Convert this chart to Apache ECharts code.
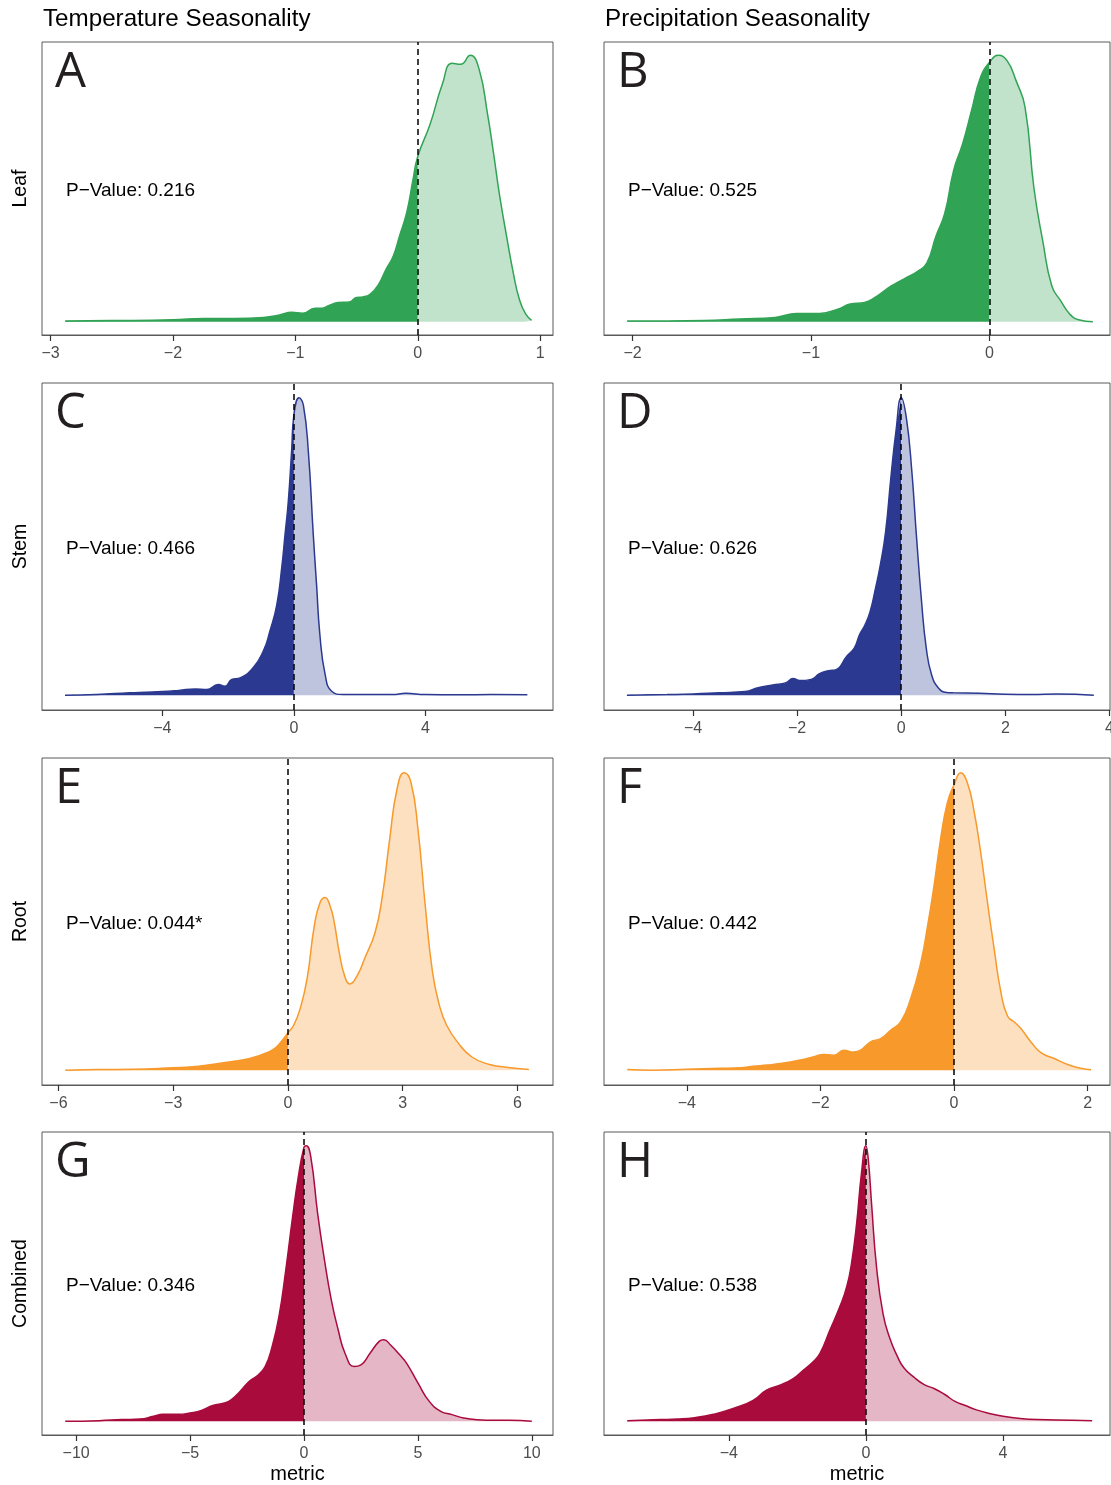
<!DOCTYPE html>
<html>
<head>
<meta charset="utf-8">
<script src="https://cdn.jsdelivr.net/npm/echarts@6.0.0/dist/echarts.min.js"></script>
<style>
  html, body { margin: 0; padding: 0; background: #ffffff; }
  #chart { width: 1111px; height: 1485px; }
</style>
</head>
<body>
<div id="chart"></div>
<script>
// density curves, height relative to each panel's peak (=100)
const leafTempX = [-2.88, -2.5, -2, -1.75, -1.5, -1.26, -1.13, -1.03, -0.94, -0.84, -0.79, -0.72, -0.65, -0.56, -0.5, -0.45, -0.39, -0.32, -0.26, -0.2, -0.15, -0.09, -0.04, 0, 0.1, 0.2, 0.28, 0.35, 0.43, 0.5, 0.57, 0.62, 0.67, 0.73, 0.78, 0.83, 0.88, 0.93];
const leafTempY = [0.3, 0.4, 0.7, 1.2, 1.2, 1.6, 2.5, 3.5, 3.2, 5, 5, 6.2, 7.2, 7.4, 9.1, 9.3, 10.3, 14, 19.6, 24.6, 32, 41, 53, 62, 74, 89, 97, 96.6, 100, 95, 78, 63, 47, 31, 18.4, 8.4, 3, 0.5];

const leafPrecX = [-2.03, -1.8, -1.6, -1.4, -1.2, -1.08, -0.95, -0.85, -0.78, -0.7, -0.65, -0.55, -0.48, -0.4, -0.35, -0.3, -0.25, -0.2, -0.15, -0.1, -0.05, 0, 0.05, 0.1, 0.15, 0.2, 0.25, 0.3, 0.35, 0.4, 0.45, 0.5, 0.58];
const leafPrecY = [0.3, 0.3, 0.4, 1, 1.6, 3.1, 3.1, 4.7, 6.6, 7.2, 8.7, 13.4, 16, 19, 22.1, 32, 40.7, 56.9, 66.8, 79.3, 91.7, 97.3, 100, 97.9, 90.4, 80.5, 50, 30, 13.4, 7.8, 2.9, 0.7, 0];

const stemTempX = [-6.96, -6, -5, -4.5, -4, -3.5, -3, -2.65, -2.3, -2.1, -1.89, -1.64, -1.24, -0.93, -0.73, -0.52, -0.37, -0.27, -0.17, -0.07, 0, 0.16, 0.29, 0.44, 0.59, 0.69, 0.79, 0.95, 1.15, 1.5, 2, 3, 3.4, 4, 5, 6, 7.1];
const stemTempY = [0, 0.2, 0.8, 1, 1.2, 1.6, 2.1, 1.9, 3.6, 3, 5.3, 5.8, 9.2, 14.8, 21.5, 30.4, 42.8, 53.9, 65.1, 81.9, 94.2, 100, 97.5, 81.9, 53.9, 37.1, 20.4, 7, 1.3, 0.2, 0.2, 0.2, 0.6, 0.2, 0.1, 0.2, 0.1];

const stemPrecX = [-5.27, -4.5, -4, -3.5, -3, -2.75, -2.47, -2.21, -2.08, -1.95, -1.73, -1.57, -1.4, -1.25, -1.05, -0.9, -0.8, -0.7, -0.6, -0.5, -0.4, -0.3, -0.2, -0.1, 0, 0.1, 0.2, 0.29, 0.39, 0.48, 0.58, 0.71, 0.87, 1, 1.5, 2, 2.5, 3, 3.7];
const stemPrecY = [0, 0.2, 0.4, 0.8, 1.2, 2.5, 3.4, 4.2, 5.6, 4.9, 5.3, 7.2, 8.2, 8.6, 13, 15.9, 20.4, 23.5, 28, 35.5, 44, 55, 73, 89, 100, 93, 76, 54, 31.5, 15.9, 7, 2.5, 0.9, 0.8, 0.6, 0.3, 0.2, 0.4, 0];

const rootTempX = [-5.82, -5, -4, -3, -2.5, -2, -1.5, -1, -0.5, -0.3, -0.15, 0, 0.15, 0.32, 0.5, 0.69, 0.84, 0.97, 1.1, 1.21, 1.34, 1.48, 1.62, 1.81, 2.0, 2.28, 2.47, 2.66, 2.85, 3.04, 3.22, 3.4, 3.59, 3.78, 3.96, 4.15, 4.43, 4.8, 5.27, 5.7, 6.3];
const rootTempY = [0, 0.2, 0.3, 0.8, 1.1, 1.9, 2.8, 3.9, 6.1, 7.8, 10, 12.6, 15.1, 20.7, 30.7, 48.6, 56.4, 58.1, 55.3, 49.7, 39.7, 31.8, 29, 31.8, 37.4, 46.4, 58.7, 77.7, 94.4, 100, 96.6, 81, 55.3, 33, 21.8, 15.1, 9.5, 4.5, 1.9, 1, 0.2];

const rootPrecX = [-4.89, -4.5, -4, -3.5, -3.2, -3, -2.8, -2.6, -2.3, -2.1, -1.95, -1.8, -1.65, -1.5, -1.4, -1.25, -1.1, -0.95, -0.8, -0.65, -0.5, -0.4, -0.3, -0.2, -0.1, 0, 0.1, 0.2, 0.3, 0.4, 0.5, 0.6, 0.7, 0.8, 0.9, 1.0, 1.15, 1.3, 1.5, 1.7, 1.9, 2.05];
const rootPrecY = [0.2, 0, 0.3, 0.6, 0.8, 1.3, 1.7, 2.2, 3.4, 4.5, 5.3, 5, 6.7, 6.1, 6.7, 9.5, 10.6, 13.4, 16.2, 24, 36, 48, 62, 78, 90, 96, 100, 96.6, 87, 73, 56.4, 40.8, 26.3, 18.2, 16.2, 14, 9.5, 5.9, 3.9, 1.9, 0.6, 0.1];

const combTempX = [-10.48, -9, -8, -7.2, -6.6, -6.2, -5.5, -5, -4.5, -4, -3.5, -3.2, -2.8, -2.4, -2.0, -1.7, -1.4, -1.1, -0.8, -0.5, -0.25, 0, 0.1, 0.3, 0.6, 0.9, 1.2, 1.5, 1.8, 2.2, 2.5, 2.9, 3.3, 3.5, 3.8, 4.2, 4.5, 5, 5.5, 6, 6.5, 7, 8, 9, 10];
const combTempY = [0, 0.2, 0.6, 0.8, 1.8, 2.5, 2.5, 3, 3.9, 5.7, 6.6, 7.8, 10.9, 14.5, 16.9, 19.9, 27.1, 38, 54.9, 74.2, 88.7, 99.5, 100, 95.9, 75.4, 58.5, 44, 33.2, 24.7, 19.9, 20.5, 24.7, 29, 29.6, 27.7, 24.1, 21.1, 13.9, 7.2, 3.6, 2.4, 1.2, 0.4, 0.4, 0];

const combPrecX = [-6.96, -6, -5.5, -5, -4.45, -3.87, -3.29, -2.9, -2.51, -2.12, -1.83, -1.54, -1.34, -1.05, -0.76, -0.56, -0.42, -0.27, -0.13, 0, 0.07, 0.17, 0.31, 0.5, 0.7, 0.9, 1.1, 1.4, 1.7, 2.0, 2.3, 2.6, 2.9, 3.2, 3.6, 4.0, 4.5, 5, 6, 6.6];
const combPrecY = [0.2, 0.6, 0.8, 1.3, 2.5, 4.6, 7.6, 11.3, 13.1, 15.5, 18.5, 21.6, 24.6, 33.1, 41.6, 48.8, 57.3, 71.9, 90, 100, 95, 78, 56, 39, 30, 24, 19.5, 16, 13.3, 11.8, 9.7, 7.2, 5.7, 4.2, 2.8, 1.8, 1, 0.6, 0.4, 0.2];

// tick labels
const leafTempTicks = [-3, -2, -1, 0, 1];
const leafPrecTicks = [-2, -1, 0];
const stemTempTicks = [-4, 0, 4];
const stemPrecTicks = [-4, -2, 0, 2, 4];
const rootTempTicks = [-6, -3, 0, 3, 6];
const rootPrecTicks = [-4, -2, 0, 2];
const combTempTicks = [-10, -5, 0, 5, 10];
const combPrecTicks = [-4, 0, 4];

const columnTitles = ["Temperature Seasonality", "Precipitation Seasonality"];
const rowTitles = ["Leaf", "Stem", "Root", "Combined"];
const panelLetters = ["A", "B", "C", "D", "E", "F", "G", "H"];
const pValues = ["0.216", "0.525", "0.466", "0.626", "0.044*", "0.442", "0.346", "0.538"];

const palette = [
  ["#31a354", "#c1e3cc"],
  ["#2b3990", "#bfc4de"],
  ["#f7992b", "#fde0bf"],
  ["#a90b3c", "#e5b6c5"]
];

const panels = [
  { x: leafTempX, y: leafTempY, ticks: leafTempTicks, range: [-3.07, 1.105] },
  { x: leafPrecX, y: leafPrecY, ticks: leafPrecTicks, range: [-2.16, 0.676] },
  { x: stemTempX, y: stemTempY, ticks: stemTempTicks, range: [-7.66, 7.88] },
  { x: stemPrecX, y: stemPrecY, ticks: stemPrecTicks, range: [-5.71, 4.01] },
  { x: rootTempX, y: rootTempY, ticks: rootTempTicks, range: [-6.43, 6.93] },
  { x: rootPrecX, y: rootPrecY, ticks: rootPrecTicks, range: [-5.24, 2.334] },
  { x: combTempX, y: combTempY, ticks: combTempTicks, range: [-11.5, 10.93] },
  { x: combPrecX, y: combPrecY, ticks: combPrecTicks, range: [-7.64, 7.12] }
];

// layout
const colLeft = [42, 604];
const colWidth = [511, 506];
const rowTop = [42, 383, 758, 1132];
const rowHeight = [293, 327, 327, 303];
const sans = "'Liberation Sans', Arial, Helvetica, sans-serif";
const frame = "#5a5a5a";

const grids = [], xAxes = [], yAxes = [], series = [], graphics = [];

panels.forEach(function (p, i) {
  const row = Math.floor(i / 2), col = i % 2;
  const dark = palette[row][0], light = palette[row][1];
  const pts = p.x.map(function (v, k) { return [v, p.y[k]]; });
  const left = pts.filter(function (d) { return d[0] <= 0; });
  const right = pts.filter(function (d) { return d[0] >= 0; });

  grids.push({
    left: colLeft[col], top: rowTop[row], width: colWidth[col], height: rowHeight[row],
    show: true, borderColor: frame, borderWidth: 1, backgroundColor: "#fff",
    outerBoundsMode: "none"
  });
  xAxes.push({
    type: "value", gridIndex: i, min: p.range[0], max: p.range[1], position: "bottom",
    axisLine: { show: true, onZero: false, lineStyle: { color: frame, width: 1 } },
    splitLine: { show: false },
    axisTick: { show: true, inside: false, customValues: p.ticks, length: 6, lineStyle: { color: "#333", width: 1.2 } },
    axisLabel: {
      customValues: p.ticks, margin: 11, fontSize: 16, color: "#4d4d4d", fontFamily: sans,
      formatter: function (v) { return String(v).replace("-", "\u2212"); }
    }
  });
  yAxes.push({ type: "value", gridIndex: i, min: -5, max: 105, show: false });

  const common = { type: "line", xAxisIndex: i, yAxisIndex: i, showSymbol: false, symbol: "none",
    smooth: 0.5, silent: true, animation: false };
  series.push(Object.assign({}, common, {
    data: left, lineStyle: { width: 0, color: dark },
    areaStyle: { color: dark, opacity: 1, origin: 0 }, z: 2
  }));
  series.push(Object.assign({}, common, {
    data: right, lineStyle: { width: 0, color: light },
    areaStyle: { color: light, opacity: 1, origin: 0 }, z: 2
  }));
  series.push(Object.assign({}, common, {
    data: pts, lineStyle: { width: 1.5, color: dark }, z: 3,
    markLine: {
      silent: true, symbol: ["none", "none"], label: { show: false },
      lineStyle: { color: "#000", type: [6, 4], width: 1.5 },
      data: [{ xAxis: 0 }], animation: false
    }
  }));

  const cx = colLeft[col], midY = rowTop[row] + rowHeight[row] / 2;
  graphics.push({
    type: "text", x: cx + 13, y: rowTop[row] + 31, z: 10,
    style: { text: panelLetters[i], fontSize: 49, fontFamily: "'Open Sans', Lato, sans-serif",
      fill: "#231f20", align: "left", verticalAlign: "middle" }
  });
  graphics.push({
    type: "text", x: cx + 24, y: midY + 2, z: 10,
    style: { text: "P\u2212Value: " + pValues[i], fontSize: 19, fontFamily: sans,
      fill: "#000", align: "left", verticalAlign: "middle" }
  });
});

columnTitles.forEach(function (t, c) {
  graphics.push({
    type: "text", x: colLeft[c] + 1, y: 19, z: 10,
    style: { text: t, fontSize: 24.2, fontFamily: sans, fill: "#000", align: "left", verticalAlign: "middle" }
  });
  graphics.push({
    type: "text", x: colLeft[c] + colWidth[c] / 2, y: 1474, z: 10,
    style: { text: "metric", fontSize: 20, fontFamily: sans, fill: "#000", align: "center", verticalAlign: "middle" }
  });
});

rowTitles.forEach(function (t, r) {
  graphics.push({
    type: "text", x: 21, y: rowTop[r] + rowHeight[r] / 2, rotation: Math.PI / 2, z: 10,
    style: { text: t, fontSize: 19.5, fontFamily: sans, fill: "#000", align: "center", verticalAlign: "middle" }
  });
});

const chart = echarts.init(document.getElementById("chart"), null, { renderer: "canvas" });
chart.setOption({
  backgroundColor: "#ffffff",
  animation: false,
  grid: grids,
  xAxis: xAxes,
  yAxis: yAxes,
  series: series,
  graphic: graphics
});
</script>
</body>
</html>
